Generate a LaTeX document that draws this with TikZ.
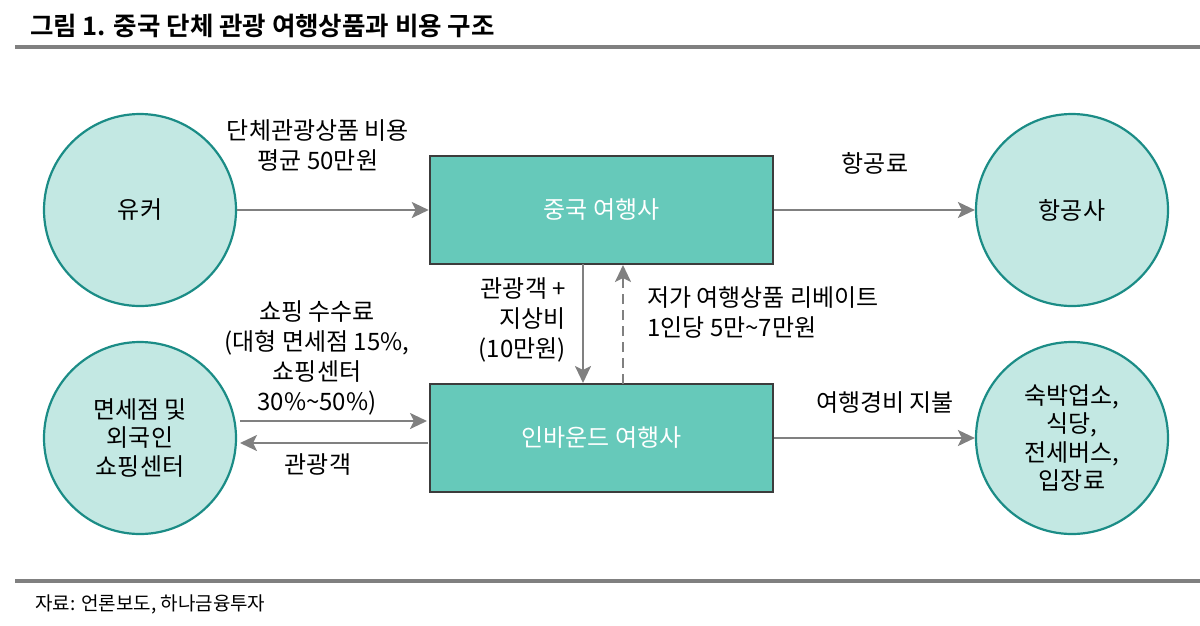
\documentclass[tikz,border=0pt]{standalone}
\usepackage{fontspec}
\setmainfont{Noto Sans CJK KR}
\newfontfamily\krbold{Noto Sans CJK KR Bold}
\usetikzlibrary{arrows.meta}
\definecolor{circfill}{HTML}{C3E8E3}
\definecolor{circline}{HTML}{1B8C86}
\definecolor{boxfill}{HTML}{66C9BA}
\definecolor{boxline}{HTML}{3C3C3C}
\definecolor{arr}{HTML}{808080}
\tikzset{
  party/.style={circle,draw=circline,line width=2.2pt,fill=circfill,minimum size=192pt,inner sep=0pt,align=center,font=\fontsize{24}{28.5}\selectfont},
  agency/.style={rectangle,draw=boxline,line width=2.5pt,fill=boxfill,minimum width=343pt,minimum height=108pt,inner sep=0pt,text=white,font=\fontsize{24}{28}\selectfont},
  flow/.style={draw=arr,line width=2.6pt,-{Stealth[length=17pt,width=16pt,inset=4pt]}},
  lbl/.style={align=center,font=\fontsize{24}{30}\selectfont,inner sep=0pt},
  rule/.style={draw=arr,line width=3.5pt}
}
\begin{document}
\begin{tikzpicture}[x=1pt,y=-1pt]
\useasboundingbox (0,0) rectangle (1200,625);
\node[anchor=west,font=\krbold\fontsize{25.5}{30}\selectfont,inner sep=0pt] (title) at (30,26) {그림 1. 중국 단체 관광 여행상품과 비용 구조};
\coordinate (t1) at (15,47); \coordinate (t2) at (1200,47);
\draw[rule] (t1) -- (t2);
\coordinate (b1) at (15,581); \coordinate (b2) at (1200,581);
\draw[rule] (b1) -- (b2);
\node[anchor=west,font=\fontsize{19}{22}\selectfont,inner sep=0pt] (src) at (35,604) {자료: 언론보도, 하나금융투자};

\node[party] (yk) at (140,210) {유커};
\node[party] (duty) at (140,438) {면세점 및\\외국인\\쇼핑센터};
\node[party] (air) at (1072,210) {항공사};
\node[party] (hotel) at (1072,438) {숙박업소,\\식당,\\전세버스,\\입장료};
\node[agency] (cn) at (601.5,210) {중국 여행사};
\node[agency] (ib) at (601.5,438) {인바운드 여행사};

\draw[flow] (yk.east) -- (cn.west);
\node[lbl] (l1) at (318,145) {단체관광상품 비용\\평균 50만원};
\draw[flow] (cn.east) -- (air.west);
\node[lbl] (l2) at (875,163) {항공료};
\draw[flow] (583,264) coordinate (d1) -- (583,383) coordinate (d2);
\node[lbl,align=right,anchor=east] (l3) at (566,320) {관광객 +\\지상비\\(10만원)};
\draw[flow,dash pattern=on 10pt off 6pt] (623,384) coordinate (u1) -- (623,265) coordinate (u2);
\node[lbl,align=left,anchor=west] (l4) at (647,312) {저가 여행상품 리베이트\\1인당 5만\textasciitilde 7만원};
\draw[flow] (240,421) coordinate (s1) -- (427,421) coordinate (s2);
\draw[flow] (428,443) coordinate (s3) -- (240,443) coordinate (s4);
\node[lbl] (l5) at (317,358) {쇼핑 수수료\\(대형 면세점 15\%,\\쇼핑센터\\30\%\textasciitilde 50\%)};
\node[lbl] (l6) at (318,465) {관광객};
\draw[flow] (ib.east) -- (hotel.west);
\node[lbl] (l7) at (885,403) {여행경비 지불};
\end{tikzpicture}
\end{document}
